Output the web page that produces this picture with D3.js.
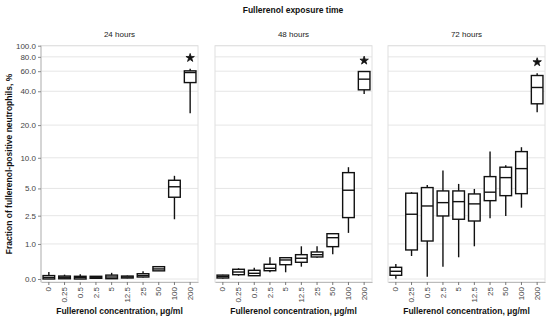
<!DOCTYPE html>
<html><head><meta charset="utf-8">
<script src="https://cdn.jsdelivr.net/npm/d3@7"></script>
<style>body{margin:0;background:#fff}svg{display:block;font-family:"Liberation Sans",Arial,sans-serif}</style>
</head><body><svg id="c" width="550" height="320"></svg>
<script>
const categories = ["0","0.25","0.5","2.5","5","12.5","25","50","100","200"];
const panelTitles = ["24 hours","48 hours","72 hours"];
const yTicks = [0,1,2.5,5,10,20,40,60,80,100];
// each row: [whiskerLow, q1, median, q3, whiskerHigh]
const box24 = [
  [0,0,0.03,0.07,0.15],[0,0.005,0.035,0.06,0.09],[0,0,0.03,0.055,0.10],[0.01,0.014,0.035,0.055,0.06],
  [0,0.006,0.04,0.08,0.13],[0.015,0.02,0.04,0.06,0.07],[0.03,0.04,0.07,0.11,0.165],[0.17,0.175,0.22,0.276,0.29],
  [2.26,4.04,5.2,6.05,6.7],[25.6,47.7,58.4,60.4,62.9]];
const box48 = [
  [0.01,0.02,0.05,0.08,0.09],[0.067,0.089,0.148,0.212,0.236],[0.067,0.067,0.119,0.188,0.251],[0.142,0.178,0.236,0.338,0.537],
  [0.142,0.327,0.457,0.524,0.53],[0.276,0.392,0.507,0.618,0.91],[0.524,0.546,0.618,0.707,0.91],[0.631,0.896,1.265,1.45,1.45],
  [1.49,2.37,4.79,7.2,8.13],[37.9,41.2,51.1,59.6,59.6]];
const box72 = [
  [0.006,0.076,0.165,0.26,0.346],[0.577,0.776,2.6,4.46,4.57],[0.046,1.12,3.24,5.1,5.43],[0.276,2.48,3.53,4.71,7.54],
  [0.537,2.26,3.62,4.71,5.56],[0.91,2.15,3.42,4.38,4.94],[2.33,3.71,4.57,6.58,11.43],[2.48,4.2,6.43,8.13,8.5],
  [3.1,4.41,7.88,11.43,12.56],[26.1,31,43.2,55,57.7]];
const boxes = [box24, box48, box72];
const starred = ["200","200","200"];

const svg = d3.select("#c");
const panelLeft = [41, 215, 388], panelW = 157, plotTop = 45.7, plotBottom = 282;
const y = d3.scaleSymlog().constant(1).domain([0,100]).range([279, plotTop]);

svg.append("text").attr("x", 293).attr("y", 13).attr("text-anchor","middle")
  .attr("font-size", 8.5).attr("font-weight","bold").attr("fill","#111").text("Fullerenol exposure time");

svg.append("text").attr("transform","translate(12,164) rotate(-90)").attr("text-anchor","middle")
  .attr("font-size", 8.5).attr("font-weight","bold").attr("fill","#111")
  .text("Fraction of fullerenol-positive neutrophils, %");

panelTitles.forEach((t, pi) => {
  const x0 = panelLeft[pi];
  const x = d3.scaleBand().domain(categories).range([x0, x0 + panelW]).paddingInner(0).paddingOuter(0);
  const g = svg.append("g");
  g.append("text").attr("x", x0 + panelW/2).attr("y", 37).attr("text-anchor","middle")
    .attr("font-size", 8).attr("fill","#222").text(t);
  g.selectAll("line.grid").data(yTicks).join("line")
    .attr("x1", x0).attr("x2", x0 + panelW).attr("y1", d => y(d)).attr("y2", d => y(d))
    .attr("stroke","#e6e6e6").attr("stroke-width",1);
  g.append("rect").attr("x", x0).attr("y", plotTop).attr("width", panelW).attr("height", plotBottom - plotTop)
    .attr("fill","none").attr("stroke","#e0e0e0").attr("stroke-width",1);
  const xa = g.append("g").attr("transform", `translate(0,${plotBottom})`)
    .call(d3.axisBottom(x).tickSize(3).tickSizeOuter(0));
  xa.select(".domain").attr("stroke","#bbb");
  xa.selectAll(".tick line").attr("stroke","#777");
  xa.selectAll(".tick text").attr("font-size", 8).attr("fill","#444").attr("font-family", null)
    .attr("transform","rotate(-90)").attr("text-anchor","end").attr("x",-5).attr("y",0).attr("dy","0.32em");
  g.append("text").attr("x", x0 + panelW/2).attr("y", 313.5).attr("text-anchor","middle")
    .attr("font-size", 8.5).attr("font-weight","bold").attr("fill","#111").text("Fullerenol concentration, μg/ml");
  if (pi === 0) {
    const ya = g.append("g").attr("transform", `translate(${x0},0)`)
      .call(d3.axisLeft(y).tickValues(yTicks).tickFormat(d3.format(".1f")).tickSize(3).tickSizeOuter(0));
    ya.select(".domain").attr("stroke","#bbb").attr("d", `M0,${plotTop}V${plotBottom}`);
    ya.selectAll(".tick line").attr("stroke","#888");
    ya.selectAll(".tick text").attr("font-size", 8).attr("fill","#444").attr("font-family", null).attr("x",-5);
  }
  const bw = x.bandwidth() * 0.74;
  const data = boxes[pi].map((r, i) => ({c: categories[i], lo: r[0], q1: r[1], med: r[2], q3: r[3], hi: r[4]}));
  const bg = g.selectAll("g.box").data(data).join("g");
  const cx = d => x(d.c) + x.bandwidth()/2;
  bg.append("line").attr("x1", cx).attr("x2", cx).attr("y1", d => y(d.lo)).attr("y2", d => y(d.hi))
    .attr("stroke","#111").attr("stroke-width",1.4);
  bg.append("rect").attr("x", d => cx(d) - bw/2).attr("width", bw)
    .attr("y", d => y(d.q3)).attr("height", d => Math.max(0.5, y(d.q1) - y(d.q3)))
    .attr("fill","#fff").attr("stroke","#111").attr("stroke-width",1.4);
  bg.append("line").attr("x1", d => cx(d) - bw/2).attr("x2", d => cx(d) + bw/2)
    .attr("y1", d => y(d.med)).attr("y2", d => y(d.med)).attr("stroke","#111").attr("stroke-width",1.4);
  const sd = data.find(d => d.c === starred[pi]);
  g.append("path").attr("d", d3.symbol(d3.symbolStar, 22)())
    .attr("transform", `translate(${cx(sd)},${y(sd.hi) - 11})`).attr("fill","#111")
    .attr("stroke","#111").attr("stroke-width",0.8).attr("stroke-linejoin","round");
});
</script></body></html>
